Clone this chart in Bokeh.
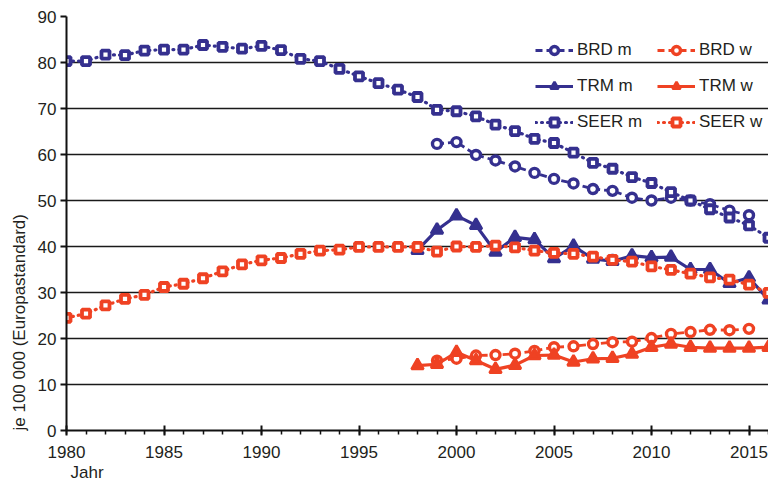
from bokeh.plotting import figure
from bokeh.models import (FixedTicker, Legend, LegendItem, Range1d, Title)
from bokeh.embed import file_html
from bokeh.resources import INLINE

# ---------------- data ----------------
years_seer = list(range(1980, 2017))
seer_m = [80.3, 80.3, 81.7, 81.6, 82.6, 82.8, 82.8, 83.8, 83.4, 83.0, 83.6, 82.7, 80.8,
          80.3, 78.6, 77.0, 75.5, 74.1, 72.5, 69.7, 69.4, 68.3, 66.5, 65.1,
          63.4, 62.5, 60.4, 58.2, 56.9, 55.1, 53.8, 51.8, 50.0, 48.1, 46.3, 44.6, 41.9]
seer_w = [24.5, 25.4, 27.2, 28.6, 29.5, 31.2, 31.9, 33.1, 34.6, 36.1, 37.0, 37.5, 38.4,
          39.1, 39.3, 39.9, 39.9, 39.9, 39.9, 38.9, 40.0, 39.9, 40.2, 39.8,
          39.1, 38.6, 38.4, 37.8, 37.1, 36.7, 35.7, 34.9, 34.1, 33.3, 32.8, 31.7, 29.9]

years_brd = list(range(1999, 2016))
brd_m = [62.3, 62.7, 59.9, 58.7, 57.4, 56.0, 54.7, 53.7, 52.5, 52.1, 50.6, 50.0, 50.6,
         50.0, 49.2, 47.8, 46.8]
brd_w = [15.2, 15.6, 16.3, 16.4, 16.7, 17.3, 18.1, 18.3, 18.8, 19.2, 19.3, 20.1, 21.0,
         21.4, 21.9, 21.8, 22.1]

years_trm = list(range(1998, 2017))
trm_m = [39.2, 43.6, 46.7, 44.6, 38.8, 42.0, 41.5, 37.4, 40.1, 37.3, 36.8, 38.0, 37.6,
         37.7, 35.0, 35.0, 32.0, 33.2, 28.4]
trm_w = [14.1, 14.4, 17.0, 15.2, 13.3, 14.2, 16.3, 16.4, 14.9, 15.6, 15.7, 16.6, 18.1,
         18.8, 18.1, 17.9, 17.9, 17.9, 18.1]

x_major = [1980, 1985, 1990, 1995, 2000, 2005, 2010, 2015]
y_major = [0, 10, 20, 30, 40, 50, 60, 70, 80, 90]

BLUE = "#35308f"
RED = "#ef4223"
TXT = "#231f20"
FONT = "Liberation Sans"

p = figure(width=768, height=484, output_backend="svg", toolbar_location=None,
           x_range=Range1d(1980, 2016), y_range=Range1d(0, 90),
           min_border_left=66, min_border_right=0, min_border_top=16, min_border_bottom=54)
p.outline_line_color = None
p.background_fill_color = "white"
p.border_fill_color = "white"

# axes
p.xaxis.ticker = FixedTicker(ticks=x_major, minor_ticks=years_seer)
p.yaxis.ticker = FixedTicker(ticks=y_major)
for ax in (p.xaxis[0], p.yaxis[0]):
    ax.axis_line_color = "#111111"
    ax.axis_line_width = 2
    ax.major_tick_line_color = "#111111"
    ax.major_tick_line_width = 2
    ax.minor_tick_line_color = "#111111"
    ax.minor_tick_line_width = 1.5
    ax.major_label_text_font = FONT
    ax.major_label_text_font_size = "17px"
    ax.major_label_text_color = TXT
p.xaxis.major_tick_in = 5
p.xaxis.major_tick_out = 5
p.xaxis.minor_tick_in = 0
p.xaxis.minor_tick_out = 4
p.xaxis.major_label_standoff = 10
p.yaxis.major_tick_in = 0
p.yaxis.major_tick_out = 6
p.yaxis.minor_tick_line_color = None
p.yaxis.major_label_standoff = 4

p.xgrid.grid_line_color = None
p.ygrid.ticker = FixedTicker(ticks=y_major)
p.ygrid.grid_line_color = "#1a1a1a"
p.ygrid.grid_line_width = 1.6

# series
def series(xs, ys, color, dash, marker, msize, mlw, fill, lw):
    lr = p.line(xs, ys, line_color=color, line_width=lw, line_dash=dash,
                line_cap="round" if dash == "1 5" else "butt")
    sr = p.scatter(xs, ys, marker=marker, size=msize, line_color=color,
                   line_width=mlw, fill_color=fill)
    return [lr, sr]

r_brd_m = series(years_brd, brd_m, BLUE, "7 4", "circle", 9, 3.4, "white", 2.8)
r_brd_w = series(years_brd, brd_w, RED, "7 4", "circle", 9, 3.4, "white", 2.8)
r_trm_m = series(years_trm, trm_m, BLUE, "solid", "triangle", 12, 2.5, BLUE, 3.2)
r_trm_w = series(years_trm, trm_w, RED, "solid", "triangle", 12, 2.5, RED, 3.2)
r_seer_m = series(years_seer, seer_m, BLUE, "1 5", "square", 8, 3.8, "white", 3.2)
r_seer_w = series(years_seer, seer_w, RED, "1 5", "square", 8, 3.8, "white", 3.2)

def make_legend(items, loc):
    lg = Legend(items=items, location=loc, padding=0, margin=0, spacing=16,
                glyph_width=38, glyph_height=20, label_height=20, label_standoff=4,
                label_text_font=FONT, label_text_font_size="17px",
                label_text_color=TXT, background_fill_alpha=0,
                border_line_color=None, border_line_alpha=0)
    p.add_layout(lg, "center")
    return lg

make_legend([LegendItem(label="BRD m", renderers=r_brd_m),
             LegendItem(label="TRM m", renderers=r_trm_m),
             LegendItem(label="SEER m", renderers=r_seer_m)], (469, 298))
make_legend([LegendItem(label="BRD w", renderers=r_brd_w),
             LegendItem(label="TRM w", renderers=r_trm_w),
             LegendItem(label="SEER w", renderers=r_seer_w)], (591, 298))

# axis titles placed like the original (start-aligned)
p.add_layout(Title(text="je 100 000 (Europastandard)", align="left", offset=0,
                   text_font=FONT, text_font_size="17px", text_font_style="normal",
                   text_color=TXT, standoff=12), "left")
p.add_layout(Title(text="Jahr", align="left", offset=4,
                   text_font=FONT, text_font_size="17px", text_font_style="normal",
                   text_color=TXT, standoff=0), "below")

open("out.html", "w").write(file_html(p, INLINE))
